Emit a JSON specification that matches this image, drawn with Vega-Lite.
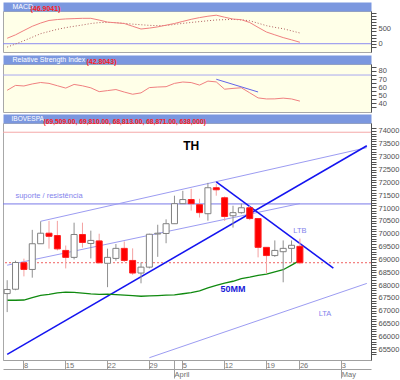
{
"$schema": "https://vega.github.io/schema/vega-lite/v6.json",
"background": "white",
"padding": {"left": 2, "top": 2, "right": 0, "bottom": 0},
"spacing": 2,
"config": {"view": {"stroke": "#A8A8A8"}, "axis": {"grid": false, "labelFont": "Liberation Sans", "titleFont": "Liberation Sans"}, "title": {"font": "Liberation Sans"}, "text": {"font": "Liberation Sans"}},
"datasets": {
"macd": [
{"date":"2010-03-04","macd":178,"signal":-110},{"date":"2010-03-05","macd":290,"signal":-10},{"date":"2010-03-08","macd":432,"signal":98},{"date":"2010-03-09","macd":570,"signal":212},{"date":"2010-03-10","macd":675,"signal":328},{"date":"2010-03-11","macd":760,"signal":400},{"date":"2010-03-12","macd":790,"signal":470},{"date":"2010-03-15","macd":810,"signal":525},{"date":"2010-03-16","macd":820,"signal":570},{"date":"2010-03-17","macd":830,"signal":612},{"date":"2010-03-18","macd":830,"signal":660},{"date":"2010-03-19","macd":772,"signal":690},{"date":"2010-03-22","macd":706,"signal":696},{"date":"2010-03-23","macd":683,"signal":688},{"date":"2010-03-24","macd":660,"signal":664},{"date":"2010-03-25","macd":570,"signal":640},{"date":"2010-03-26","macd":480,"signal":620},{"date":"2010-03-29","macd":510,"signal":600},{"date":"2010-03-30","macd":550,"signal":590},{"date":"2010-03-31","macd":606,"signal":595},{"date":"2010-04-01","macd":660,"signal":630},{"date":"2010-04-05","macd":729,"signal":665},{"date":"2010-04-06","macd":797,"signal":695},{"date":"2010-04-07","macd":853,"signal":722},{"date":"2010-04-08","macd":898,"signal":750},{"date":"2010-04-09","macd":932,"signal":776},{"date":"2010-04-12","macd":866,"signal":786},{"date":"2010-04-13","macd":805,"signal":795},{"date":"2010-04-14","macd":785,"signal":778},{"date":"2010-04-15","macd":693,"signal":750},{"date":"2010-04-16","macd":534,"signal":670},{"date":"2010-04-19","macd":382,"signal":590},{"date":"2010-04-20","macd":290,"signal":535},{"date":"2010-04-22","macd":200,"signal":490},{"date":"2010-04-23","macd":126,"signal":420},{"date":"2010-04-26","macd":47,"signal":350}
],
"rsi": [
{"date":"2010-03-04","rsi":56.2},{"date":"2010-03-05","rsi":62.2},{"date":"2010-03-08","rsi":61.5},{"date":"2010-03-09","rsi":64.0},{"date":"2010-03-10","rsi":65.8},{"date":"2010-03-11","rsi":64.7},{"date":"2010-03-12","rsi":61.8},{"date":"2010-03-15","rsi":58.9},{"date":"2010-03-16","rsi":63.4},{"date":"2010-03-17","rsi":61.7},{"date":"2010-03-18","rsi":59.2},{"date":"2010-03-19","rsi":54.5},{"date":"2010-03-22","rsi":55.8},{"date":"2010-03-23","rsi":57.1},{"date":"2010-03-24","rsi":54.0},{"date":"2010-03-25","rsi":51.3},{"date":"2010-03-26","rsi":53.0},{"date":"2010-03-29","rsi":59.5},{"date":"2010-03-30","rsi":60.2},{"date":"2010-03-31","rsi":60.6},{"date":"2010-04-01","rsi":64.7},{"date":"2010-04-05","rsi":66.4},{"date":"2010-04-06","rsi":65.7},{"date":"2010-04-07","rsi":62.6},{"date":"2010-04-08","rsi":67.5},{"date":"2010-04-09","rsi":66.5},{"date":"2010-04-12","rsi":57.5},{"date":"2010-04-13","rsi":58.5},{"date":"2010-04-14","rsi":59.3},{"date":"2010-04-15","rsi":53.1},{"date":"2010-04-16","rsi":46.8},{"date":"2010-04-19","rsi":45.5},{"date":"2010-04-20","rsi":45.6},{"date":"2010-04-22","rsi":46.5},{"date":"2010-04-23","rsi":45.5},{"date":"2010-04-26","rsi":42.8}
],
"ohlc": [
{"date":"2010-03-04","open":67670,"high":68190,"low":66950,"close":67830,"ma50":67411},
{"date":"2010-03-05","open":67840,"high":68950,"low":67800,"close":68880,"ma50":67411},
{"date":"2010-03-08","open":68870,"high":69030,"low":68340,"close":68610,"ma50":67420},
{"date":"2010-03-09","open":68610,"high":70150,"low":68290,"close":69610,"ma50":67512},
{"date":"2010-03-10","open":69610,"high":70480,"low":69610,"close":70020,"ma50":67597},
{"date":"2010-03-11","open":70020,"high":70500,"low":69420,"close":69900,"ma50":67643},
{"date":"2010-03-12","open":69930,"high":70500,"low":69350,"close":69410,"ma50":67700},
{"date":"2010-03-15","open":69350,"high":69540,"low":68650,"close":69080,"ma50":67729},
{"date":"2010-03-16","open":69080,"high":70430,"low":69000,"close":69970,"ma50":67717},
{"date":"2010-03-17","open":69970,"high":70430,"low":69460,"close":69660,"ma50":67686},
{"date":"2010-03-18","open":69620,"high":70120,"low":69040,"close":69740,"ma50":67659},
{"date":"2010-03-19","open":69720,"high":70000,"low":68850,"close":68870,"ma50":67643},
{"date":"2010-03-22","open":68850,"high":69420,"low":67920,"close":69080,"ma50":67651},
{"date":"2010-03-23","open":69040,"high":69600,"low":68950,"close":69430,"ma50":67632},
{"date":"2010-03-24","open":69430,"high":69700,"low":68900,"close":68960,"ma50":67608},
{"date":"2010-03-25","open":68960,"high":69430,"low":68400,"close":68470,"ma50":67589},
{"date":"2010-03-26","open":68470,"high":68880,"low":68070,"close":68700,"ma50":67566},
{"date":"2010-03-29","open":68700,"high":70000,"low":68650,"close":69980,"ma50":67581},
{"date":"2010-03-30","open":69990,"high":70350,"low":69100,"close":70020,"ma50":67593},
{"date":"2010-03-31","open":70010,"high":70560,"low":69630,"close":70390,"ma50":67608},
{"date":"2010-04-01","open":70390,"high":71480,"low":70390,"close":71170,"ma50":67620},
{"date":"2010-04-05","open":71170,"high":71670,"low":71170,"close":71330,"ma50":67663},
{"date":"2010-04-06","open":71330,"high":71750,"low":70900,"close":71170,"ma50":67710},
{"date":"2010-04-07","open":71130,"high":71360,"low":70630,"close":70820,"ma50":67780},
{"date":"2010-04-08","open":70780,"high":71980,"low":70510,"close":71790,"ma50":67890},
{"date":"2010-04-09","open":71790,"high":71950,"low":71480,"close":71710,"ma50":67990},
{"date":"2010-04-12","open":71400,"high":71450,"low":70500,"close":70670,"ma50":68080},
{"date":"2010-04-13","open":70700,"high":71090,"low":70240,"close":70820,"ma50":68150},
{"date":"2010-04-14","open":70820,"high":71170,"low":70780,"close":71010,"ma50":68255},
{"date":"2010-04-15","open":71010,"high":71090,"low":70530,"close":70590,"ma50":68310},
{"date":"2010-04-16","open":70590,"high":70600,"low":69080,"close":69470,"ma50":68375},
{"date":"2010-04-19","open":69470,"high":69480,"low":68460,"close":69150,"ma50":68430},
{"date":"2010-04-20","open":69150,"high":69740,"low":69100,"close":69350,"ma50":68515},
{"date":"2010-04-22","open":69300,"high":69740,"low":68110,"close":69430,"ma50":68600},
{"date":"2010-04-23","open":69430,"high":69740,"low":68880,"close":69550,"ma50":68780},
{"date":"2010-04-26","open":69509,"high":69810,"low":68813,"close":68871,"ma50":68961}
],
"trendLight": [
{"line":"canal superior","date":"2010-03-10","v":70484},{"line":"canal superior","date":"2010-05-06","v":73350},
{"line":"canal inferior","date":"2010-03-04","v":68775},{"line":"canal inferior","date":"2010-04-26","v":71175},
{"line":"LTA","date":"2010-03-29","v":65174},{"line":"LTA","date":"2010-05-06","v":68066}
],
"trendDark": [
{"line":"alta","date":"2010-03-04","v":65302},{"line":"alta","date":"2010-05-06","v":73424},
{"line":"LTB","date":"2010-04-09","v":72020},{"line":"LTB","date":"2010-04-30","v":68664}
],
"notesLight": [
{"text":"suporte / resistência","date":"2010-03-11","v":71453},
{"text":"LTB","date":"2010-04-26","v":70124},
{"text":"LTA","date":"2010-04-29","v":66857}
],
"notesBold": [
{"text":"50MM","date":"2010-04-13","v":67866}
],
"notesBig": [
{"text":"TH","date":"2010-04-06","v":73420}
]
},
"vconcat": [
{
"width": 368, "height": 41,
"view": {"fill": "#FFFFE8", "stroke": "#A8A8A8"},
"title": {"text": "(46.9041)", "anchor": "start", "color": "#FF2020", "fontSize": 7, "fontWeight": "bold", "dx": 28, "offset": -13, "baseline": "middle"},
"resolve": {"axis": {"x": "independent", "y": "independent"}},
"layer": [
{"data": {"values": [{"level": 0}]}, "mark": {"type": "rule", "color": "#8C8CF0", "strokeWidth": 1},
 "encoding": {"y": {"field": "level", "type": "quantitative", "scale": {"domain": [-271, 1069], "nice": false, "zero": false}, "axis": null}}},
{"data": {"name": "macd"}, "mark": {"type": "line", "color": "#B06060", "strokeWidth": 1, "strokeDash": [1, 2]},
 "encoding": {
  "x": {"field": "date", "type": "ordinal", "scale": {"type": "point", "padding": 0.5, "domain": ["2010-03-04","2010-03-05","2010-03-08","2010-03-09","2010-03-10","2010-03-11","2010-03-12","2010-03-15","2010-03-16","2010-03-17","2010-03-18","2010-03-19","2010-03-22","2010-03-23","2010-03-24","2010-03-25","2010-03-26","2010-03-29","2010-03-30","2010-03-31","2010-04-01","2010-04-05","2010-04-06","2010-04-07","2010-04-08","2010-04-09","2010-04-12","2010-04-13","2010-04-14","2010-04-15","2010-04-16","2010-04-19","2010-04-20","2010-04-22","2010-04-23","2010-04-26","2010-04-27","2010-04-28","2010-04-29","2010-04-30","2010-05-03","2010-05-04","2010-05-05","2010-05-06"]}, "axis": null},
  "y": {"field": "signal", "type": "quantitative", "scale": {"domain": [-271, 1069], "nice": false, "zero": false}, "axis": null}}},
{"data": {"name": "macd"}, "mark": {"type": "line", "color": "#F08080", "strokeWidth": 1},
 "encoding": {
  "x": {"field": "date", "type": "ordinal", "scale": {"type": "point", "padding": 0.5, "domain": ["2010-03-04","2010-03-05","2010-03-08","2010-03-09","2010-03-10","2010-03-11","2010-03-12","2010-03-15","2010-03-16","2010-03-17","2010-03-18","2010-03-19","2010-03-22","2010-03-23","2010-03-24","2010-03-25","2010-03-26","2010-03-29","2010-03-30","2010-03-31","2010-04-01","2010-04-05","2010-04-06","2010-04-07","2010-04-08","2010-04-09","2010-04-12","2010-04-13","2010-04-14","2010-04-15","2010-04-16","2010-04-19","2010-04-20","2010-04-22","2010-04-23","2010-04-26","2010-04-27","2010-04-28","2010-04-29","2010-04-30","2010-05-03","2010-05-04","2010-05-05","2010-05-06"]},
   "axis": {"orient": "top", "offset": 4.5, "domainWidth": 9, "domainColor": "#7B97DF", "ticks": false, "labels": false, "grid": false, "title": "MACD", "titleColor": "white", "titleFontSize": 7, "titleFontWeight": "normal", "titleAnchor": "start", "titleAlign": "left", "titleBaseline": "middle", "titleX": 9, "titleY": 0, "titlePadding": 0}},
  "y": {"field": "macd", "type": "quantitative", "scale": {"domain": [-271, 1069], "nice": false, "zero": false},
   "axis": {"orient": "right", "title": null, "values": [-100,0,100,200,300,400,500,600,700,800,900,1000], "labelExpr": "datum.value === 0 || datum.value === 500 ? format(datum.value, 'd') : ''", "labelOverlap": false, "labelFontSize": 7.5, "labelColor": "#505050", "domainColor": "#505050", "tickColor": "#505050", "tickSize": 5, "labelPadding": 2, "encode": {"ticks": {"update": {"x2": {"signal": "datum.value % 500 === 0 ? 5 : 2"}}}}}}}}
]
},
{
"width": 368, "height": 48,
"view": {"fill": "#FFFFE8", "stroke": "#A8A8A8"},
"title": {"text": "(42.8043)", "anchor": "start", "color": "#FF2020", "fontSize": 7, "fontWeight": "bold", "dx": 84, "offset": -13, "baseline": "middle"},
"resolve": {"axis": {"x": "independent", "y": "independent"}},
"layer": [
{"data": {"values": [{"level": 75}]}, "mark": {"type": "rule", "color": "#A8A8F0", "strokeWidth": 1},
 "encoding": {"y": {"field": "level", "type": "quantitative", "scale": {"domain": [29.4, 88.6], "nice": false, "zero": false}, "axis": null}}},
{"data": {"name": "rsi"}, "mark": {"type": "line", "color": "#F08080", "strokeWidth": 1},
 "encoding": {
  "x": {"field": "date", "type": "ordinal", "scale": {"type": "point", "padding": 0.5, "domain": ["2010-03-04","2010-03-05","2010-03-08","2010-03-09","2010-03-10","2010-03-11","2010-03-12","2010-03-15","2010-03-16","2010-03-17","2010-03-18","2010-03-19","2010-03-22","2010-03-23","2010-03-24","2010-03-25","2010-03-26","2010-03-29","2010-03-30","2010-03-31","2010-04-01","2010-04-05","2010-04-06","2010-04-07","2010-04-08","2010-04-09","2010-04-12","2010-04-13","2010-04-14","2010-04-15","2010-04-16","2010-04-19","2010-04-20","2010-04-22","2010-04-23","2010-04-26","2010-04-27","2010-04-28","2010-04-29","2010-04-30","2010-05-03","2010-05-04","2010-05-05","2010-05-06"]},
   "axis": {"orient": "top", "offset": 4.5, "domainWidth": 9, "domainColor": "#7B97DF", "ticks": false, "labels": false, "grid": false, "title": "Relative Strength Index", "titleColor": "white", "titleFontSize": 7, "titleFontWeight": "normal", "titleAnchor": "start", "titleAlign": "left", "titleBaseline": "middle", "titleX": 9, "titleY": 0, "titlePadding": 0}},
  "y": {"field": "rsi", "type": "quantitative", "scale": {"domain": [29.4, 88.6], "nice": false, "zero": false},
   "axis": {"orient": "right", "title": null, "values": [35,40,45,50,55,60,65,70,75,80,85], "labelExpr": "datum.value % 10 === 0 && datum.value >= 40 ? format(datum.value, 'd') : ''", "labelOverlap": false, "labelFontSize": 7.5, "labelColor": "#505050", "domainColor": "#505050", "tickColor": "#505050", "tickSize": 5, "labelPadding": 2, "encode": {"ticks": {"update": {"x2": {"signal": "datum.value % 10 === 0 ? 5 : 2"}}}}}}}},
{"data": {"values": [{"date": "2010-04-09", "v": 69.8}, {"date": "2010-04-16", "v": 54.1}]}, "mark": {"type": "line", "color": "#6464E8", "strokeWidth": 1},
 "encoding": {
  "x": {"field": "date", "type": "ordinal", "scale": {"type": "point", "padding": 0.5, "domain": ["2010-03-04","2010-03-05","2010-03-08","2010-03-09","2010-03-10","2010-03-11","2010-03-12","2010-03-15","2010-03-16","2010-03-17","2010-03-18","2010-03-19","2010-03-22","2010-03-23","2010-03-24","2010-03-25","2010-03-26","2010-03-29","2010-03-30","2010-03-31","2010-04-01","2010-04-05","2010-04-06","2010-04-07","2010-04-08","2010-04-09","2010-04-12","2010-04-13","2010-04-14","2010-04-15","2010-04-16","2010-04-19","2010-04-20","2010-04-22","2010-04-23","2010-04-26","2010-04-27","2010-04-28","2010-04-29","2010-04-30","2010-05-03","2010-05-04","2010-05-05","2010-05-06"]}, "axis": null},
  "y": {"field": "v", "type": "quantitative", "scale": {"domain": [29.4, 88.6], "nice": false, "zero": false}, "axis": null}}}
]
},
{
"width": 368, "height": 237,
"view": {"fill": "white", "stroke": "#A8A8A8"},
"title": {"text": "(69,509.00, 69,810.00, 68,813.00, 68,871.00, 638,000)", "anchor": "start", "color": "#FF2020", "fontSize": 6.7, "fontWeight": "bold", "dx": 41, "offset": -13, "baseline": "middle"},
"resolve": {"axis": {"x": "independent", "y": "independent"}},
"layer": [
{"data": {"values": [{"level": 73950}]}, "mark": {"type": "rule", "color": "#F4A8A8", "strokeWidth": 1},
 "encoding": {"y": {"field": "level", "type": "quantitative", "scale": {"domain": [65085, 74310], "nice": false, "zero": false}, "axis": null}}},
{"data": {"values": [{"level": 71160}]}, "mark": {"type": "rule", "color": "#7878E8", "strokeWidth": 1},
 "encoding": {"y": {"field": "level", "type": "quantitative", "scale": {"domain": [65085, 74310], "nice": false, "zero": false}, "axis": null}}},
{"data": {"values": [{"level": 68871}]}, "mark": {"type": "rule", "color": "#F06060", "strokeWidth": 1, "strokeDash": [2, 2]},
 "encoding": {"y": {"field": "level", "type": "quantitative", "scale": {"domain": [65085, 74310], "nice": false, "zero": false}, "axis": null}}},
{"data": {"name": "trendLight"}, "mark": {"type": "line", "color": "#9C9CF2", "strokeWidth": 1, "clip": true},
 "encoding": {
  "x": {"field": "date", "type": "ordinal", "scale": {"type": "band", "paddingInner": 0, "paddingOuter": 0, "domain": ["2010-03-04","2010-03-05","2010-03-08","2010-03-09","2010-03-10","2010-03-11","2010-03-12","2010-03-15","2010-03-16","2010-03-17","2010-03-18","2010-03-19","2010-03-22","2010-03-23","2010-03-24","2010-03-25","2010-03-26","2010-03-29","2010-03-30","2010-03-31","2010-04-01","2010-04-05","2010-04-06","2010-04-07","2010-04-08","2010-04-09","2010-04-12","2010-04-13","2010-04-14","2010-04-15","2010-04-16","2010-04-19","2010-04-20","2010-04-22","2010-04-23","2010-04-26","2010-04-27","2010-04-28","2010-04-29","2010-04-30","2010-05-03","2010-05-04","2010-05-05","2010-05-06"]},
   "axis": {"orient": "top", "offset": 4.5, "domainWidth": 9, "domainColor": "#7B97DF", "ticks": false, "labels": false, "grid": false, "title": "IBOVESPA", "titleColor": "white", "titleFontSize": 6.5, "titleFontWeight": "normal", "titleAnchor": "start", "titleAlign": "left", "titleBaseline": "middle", "titleX": 8, "titleY": 0, "titlePadding": 0}},
  "y": {"field": "v", "type": "quantitative", "scale": {"domain": [65085, 74310], "nice": false, "zero": false}, "axis": null},
  "detail": {"field": "line", "type": "nominal"}}},
{"data": {"name": "trendDark"}, "mark": {"type": "line", "color": "#1414F0", "strokeWidth": 1.5, "clip": true},
 "encoding": {
  "x": {"field": "date", "type": "ordinal", "scale": {"type": "band", "paddingInner": 0, "paddingOuter": 0, "domain": ["2010-03-04","2010-03-05","2010-03-08","2010-03-09","2010-03-10","2010-03-11","2010-03-12","2010-03-15","2010-03-16","2010-03-17","2010-03-18","2010-03-19","2010-03-22","2010-03-23","2010-03-24","2010-03-25","2010-03-26","2010-03-29","2010-03-30","2010-03-31","2010-04-01","2010-04-05","2010-04-06","2010-04-07","2010-04-08","2010-04-09","2010-04-12","2010-04-13","2010-04-14","2010-04-15","2010-04-16","2010-04-19","2010-04-20","2010-04-22","2010-04-23","2010-04-26","2010-04-27","2010-04-28","2010-04-29","2010-04-30","2010-05-03","2010-05-04","2010-05-05","2010-05-06"]}, "axis": null},
  "y": {"field": "v", "type": "quantitative", "scale": {"domain": [65085, 74310], "nice": false, "zero": false}, "axis": null},
  "detail": {"field": "line", "type": "nominal"}}},
{"data": {"name": "ohlc"}, "mark": {"type": "line", "color": "#108A10", "strokeWidth": 1.3},
 "encoding": {
  "x": {"field": "date", "type": "ordinal", "scale": {"type": "band", "paddingInner": 0, "paddingOuter": 0, "domain": ["2010-03-04","2010-03-05","2010-03-08","2010-03-09","2010-03-10","2010-03-11","2010-03-12","2010-03-15","2010-03-16","2010-03-17","2010-03-18","2010-03-19","2010-03-22","2010-03-23","2010-03-24","2010-03-25","2010-03-26","2010-03-29","2010-03-30","2010-03-31","2010-04-01","2010-04-05","2010-04-06","2010-04-07","2010-04-08","2010-04-09","2010-04-12","2010-04-13","2010-04-14","2010-04-15","2010-04-16","2010-04-19","2010-04-20","2010-04-22","2010-04-23","2010-04-26","2010-04-27","2010-04-28","2010-04-29","2010-04-30","2010-05-03","2010-05-04","2010-05-05","2010-05-06"]}, "axis": null},
  "y": {"field": "ma50", "type": "quantitative", "scale": {"domain": [65085, 74310], "nice": false, "zero": false}, "axis": null}}},
{"data": {"name": "ohlc"}, "mark": {"type": "rule", "strokeWidth": 1},
 "encoding": {
  "x": {"field": "date", "type": "ordinal", "scale": {"type": "band", "paddingInner": 0, "paddingOuter": 0, "domain": ["2010-03-04","2010-03-05","2010-03-08","2010-03-09","2010-03-10","2010-03-11","2010-03-12","2010-03-15","2010-03-16","2010-03-17","2010-03-18","2010-03-19","2010-03-22","2010-03-23","2010-03-24","2010-03-25","2010-03-26","2010-03-29","2010-03-30","2010-03-31","2010-04-01","2010-04-05","2010-04-06","2010-04-07","2010-04-08","2010-04-09","2010-04-12","2010-04-13","2010-04-14","2010-04-15","2010-04-16","2010-04-19","2010-04-20","2010-04-22","2010-04-23","2010-04-26","2010-04-27","2010-04-28","2010-04-29","2010-04-30","2010-05-03","2010-05-04","2010-05-05","2010-05-06"]},
   "axis": {"orient": "bottom", "offset": 9, "values": ["2010-04-01", "2010-05-03"], "labelExpr": "datum.value == '2010-04-01' ? 'April' : 'May'", "domainColor": "#A0A0A0", "tickColor": "#A0A0A0", "tickSize": 9, "labelAlign": "left", "labelBaseline": "top", "labelPadding": -8, "labelDx": 2, "labelAngle": 0, "labelFontSize": 7.5, "labelColor": "#707070", "title": null, "grid": false, "labelOverlap": false}},
  "y": {"field": "low", "type": "quantitative", "scale": {"domain": [65085, 74310], "nice": false, "zero": false}, "axis": null},
  "y2": {"field": "high"},
  "color": {"condition": {"test": "datum.close < datum.open", "value": "#F4A0A0"}, "value": "#909090"}}},
{"data": {"name": "ohlc"}, "mark": {"type": "bar", "size": 6, "strokeWidth": 1},
 "encoding": {
  "x": {"field": "date", "type": "ordinal", "scale": {"type": "band", "paddingInner": 0, "paddingOuter": 0, "domain": ["2010-03-04","2010-03-05","2010-03-08","2010-03-09","2010-03-10","2010-03-11","2010-03-12","2010-03-15","2010-03-16","2010-03-17","2010-03-18","2010-03-19","2010-03-22","2010-03-23","2010-03-24","2010-03-25","2010-03-26","2010-03-29","2010-03-30","2010-03-31","2010-04-01","2010-04-05","2010-04-06","2010-04-07","2010-04-08","2010-04-09","2010-04-12","2010-04-13","2010-04-14","2010-04-15","2010-04-16","2010-04-19","2010-04-20","2010-04-22","2010-04-23","2010-04-26","2010-04-27","2010-04-28","2010-04-29","2010-04-30","2010-05-03","2010-05-04","2010-05-05","2010-05-06"]},
   "axis": {"orient": "bottom", "values": ["2010-03-08","2010-03-15","2010-03-22","2010-03-29","2010-04-01","2010-04-05","2010-04-12","2010-04-19","2010-04-26","2010-05-03"], "labelExpr": "datum.value == '2010-04-01' ? '' : '' + toNumber(slice(datum.value, 8))", "domainColor": "#A0A0A0", "tickColor": "#A0A0A0", "tickSize": 9, "labelAlign": "left", "labelBaseline": "top", "labelPadding": -8, "labelDx": 2, "labelAngle": 0, "labelFontSize": 7.5, "labelColor": "#707070", "title": null, "grid": false, "labelOverlap": false}},
  "y": {"field": "open", "type": "quantitative", "scale": {"domain": [65085, 74310], "nice": false, "zero": false},
   "axis": {"orient": "right", "title": null, "values": [65300,65400,65500,65600,65700,65800,65900,66000,66100,66200,66300,66400,66500,66600,66700,66800,66900,67000,67100,67200,67300,67400,67500,67600,67700,67800,67900,68000,68100,68200,68300,68400,68500,68600,68700,68800,68900,69000,69100,69200,69300,69400,69500,69600,69700,69800,69900,70000,70100,70200,70300,70400,70500,70600,70700,70800,70900,71000,71100,71200,71300,71400,71500,71600,71700,71800,71900,72000,72100,72200,72300,72400,72500,72600,72700,72800,72900,73000,73100,73200,73300,73400,73500,73600,73700,73800,73900,74000,74100], "labelExpr": "datum.value % 500 === 0 ? format(datum.value, 'd') : ''", "labelOverlap": false, "labelFontSize": 7.5, "labelColor": "#505050", "domainColor": "#505050", "tickColor": "#505050", "tickSize": 5, "labelPadding": 2, "encode": {"ticks": {"update": {"x2": {"signal": "datum.value % 500 === 0 ? 5 : 2"}}}}}},
  "y2": {"field": "close"},
  "fill": {"condition": {"test": "datum.close < datum.open", "value": "#FF0000"}, "value": "#FFFFFF"},
  "stroke": {"condition": {"test": "datum.close < datum.open", "value": "#FF2020"}, "value": "#808080"}}},
{"data": {"name": "notesLight"}, "mark": {"type": "text", "color": "#8484EC", "fontSize": 7.5, "align": "center", "baseline": "middle"},
 "encoding": {
  "x": {"field": "date", "type": "ordinal", "scale": {"type": "band", "paddingInner": 0, "paddingOuter": 0, "domain": ["2010-03-04","2010-03-05","2010-03-08","2010-03-09","2010-03-10","2010-03-11","2010-03-12","2010-03-15","2010-03-16","2010-03-17","2010-03-18","2010-03-19","2010-03-22","2010-03-23","2010-03-24","2010-03-25","2010-03-26","2010-03-29","2010-03-30","2010-03-31","2010-04-01","2010-04-05","2010-04-06","2010-04-07","2010-04-08","2010-04-09","2010-04-12","2010-04-13","2010-04-14","2010-04-15","2010-04-16","2010-04-19","2010-04-20","2010-04-22","2010-04-23","2010-04-26","2010-04-27","2010-04-28","2010-04-29","2010-04-30","2010-05-03","2010-05-04","2010-05-05","2010-05-06"]}, "axis": null},
  "y": {"field": "v", "type": "quantitative", "scale": {"domain": [65085, 74310], "nice": false, "zero": false}, "axis": null},
  "text": {"field": "text"}}},
{"data": {"name": "notesBold"}, "mark": {"type": "text", "color": "#1818D8", "fontSize": 9, "fontWeight": "bold", "align": "center", "baseline": "middle"},
 "encoding": {
  "x": {"field": "date", "type": "ordinal", "scale": {"type": "band", "paddingInner": 0, "paddingOuter": 0, "domain": ["2010-03-04","2010-03-05","2010-03-08","2010-03-09","2010-03-10","2010-03-11","2010-03-12","2010-03-15","2010-03-16","2010-03-17","2010-03-18","2010-03-19","2010-03-22","2010-03-23","2010-03-24","2010-03-25","2010-03-26","2010-03-29","2010-03-30","2010-03-31","2010-04-01","2010-04-05","2010-04-06","2010-04-07","2010-04-08","2010-04-09","2010-04-12","2010-04-13","2010-04-14","2010-04-15","2010-04-16","2010-04-19","2010-04-20","2010-04-22","2010-04-23","2010-04-26","2010-04-27","2010-04-28","2010-04-29","2010-04-30","2010-05-03","2010-05-04","2010-05-05","2010-05-06"]}, "axis": null},
  "y": {"field": "v", "type": "quantitative", "scale": {"domain": [65085, 74310], "nice": false, "zero": false}, "axis": null},
  "text": {"field": "text"}}},
{"data": {"name": "notesBig"}, "mark": {"type": "text", "color": "#000000", "fontSize": 12, "fontWeight": "bold", "align": "center", "baseline": "middle"},
 "encoding": {
  "x": {"field": "date", "type": "ordinal", "scale": {"type": "band", "paddingInner": 0, "paddingOuter": 0, "domain": ["2010-03-04","2010-03-05","2010-03-08","2010-03-09","2010-03-10","2010-03-11","2010-03-12","2010-03-15","2010-03-16","2010-03-17","2010-03-18","2010-03-19","2010-03-22","2010-03-23","2010-03-24","2010-03-25","2010-03-26","2010-03-29","2010-03-30","2010-03-31","2010-04-01","2010-04-05","2010-04-06","2010-04-07","2010-04-08","2010-04-09","2010-04-12","2010-04-13","2010-04-14","2010-04-15","2010-04-16","2010-04-19","2010-04-20","2010-04-22","2010-04-23","2010-04-26","2010-04-27","2010-04-28","2010-04-29","2010-04-30","2010-05-03","2010-05-04","2010-05-05","2010-05-06"]}, "axis": null},
  "y": {"field": "v", "type": "quantitative", "scale": {"domain": [65085, 74310], "nice": false, "zero": false}, "axis": null},
  "text": {"field": "text"}}}
]
}
]
}
